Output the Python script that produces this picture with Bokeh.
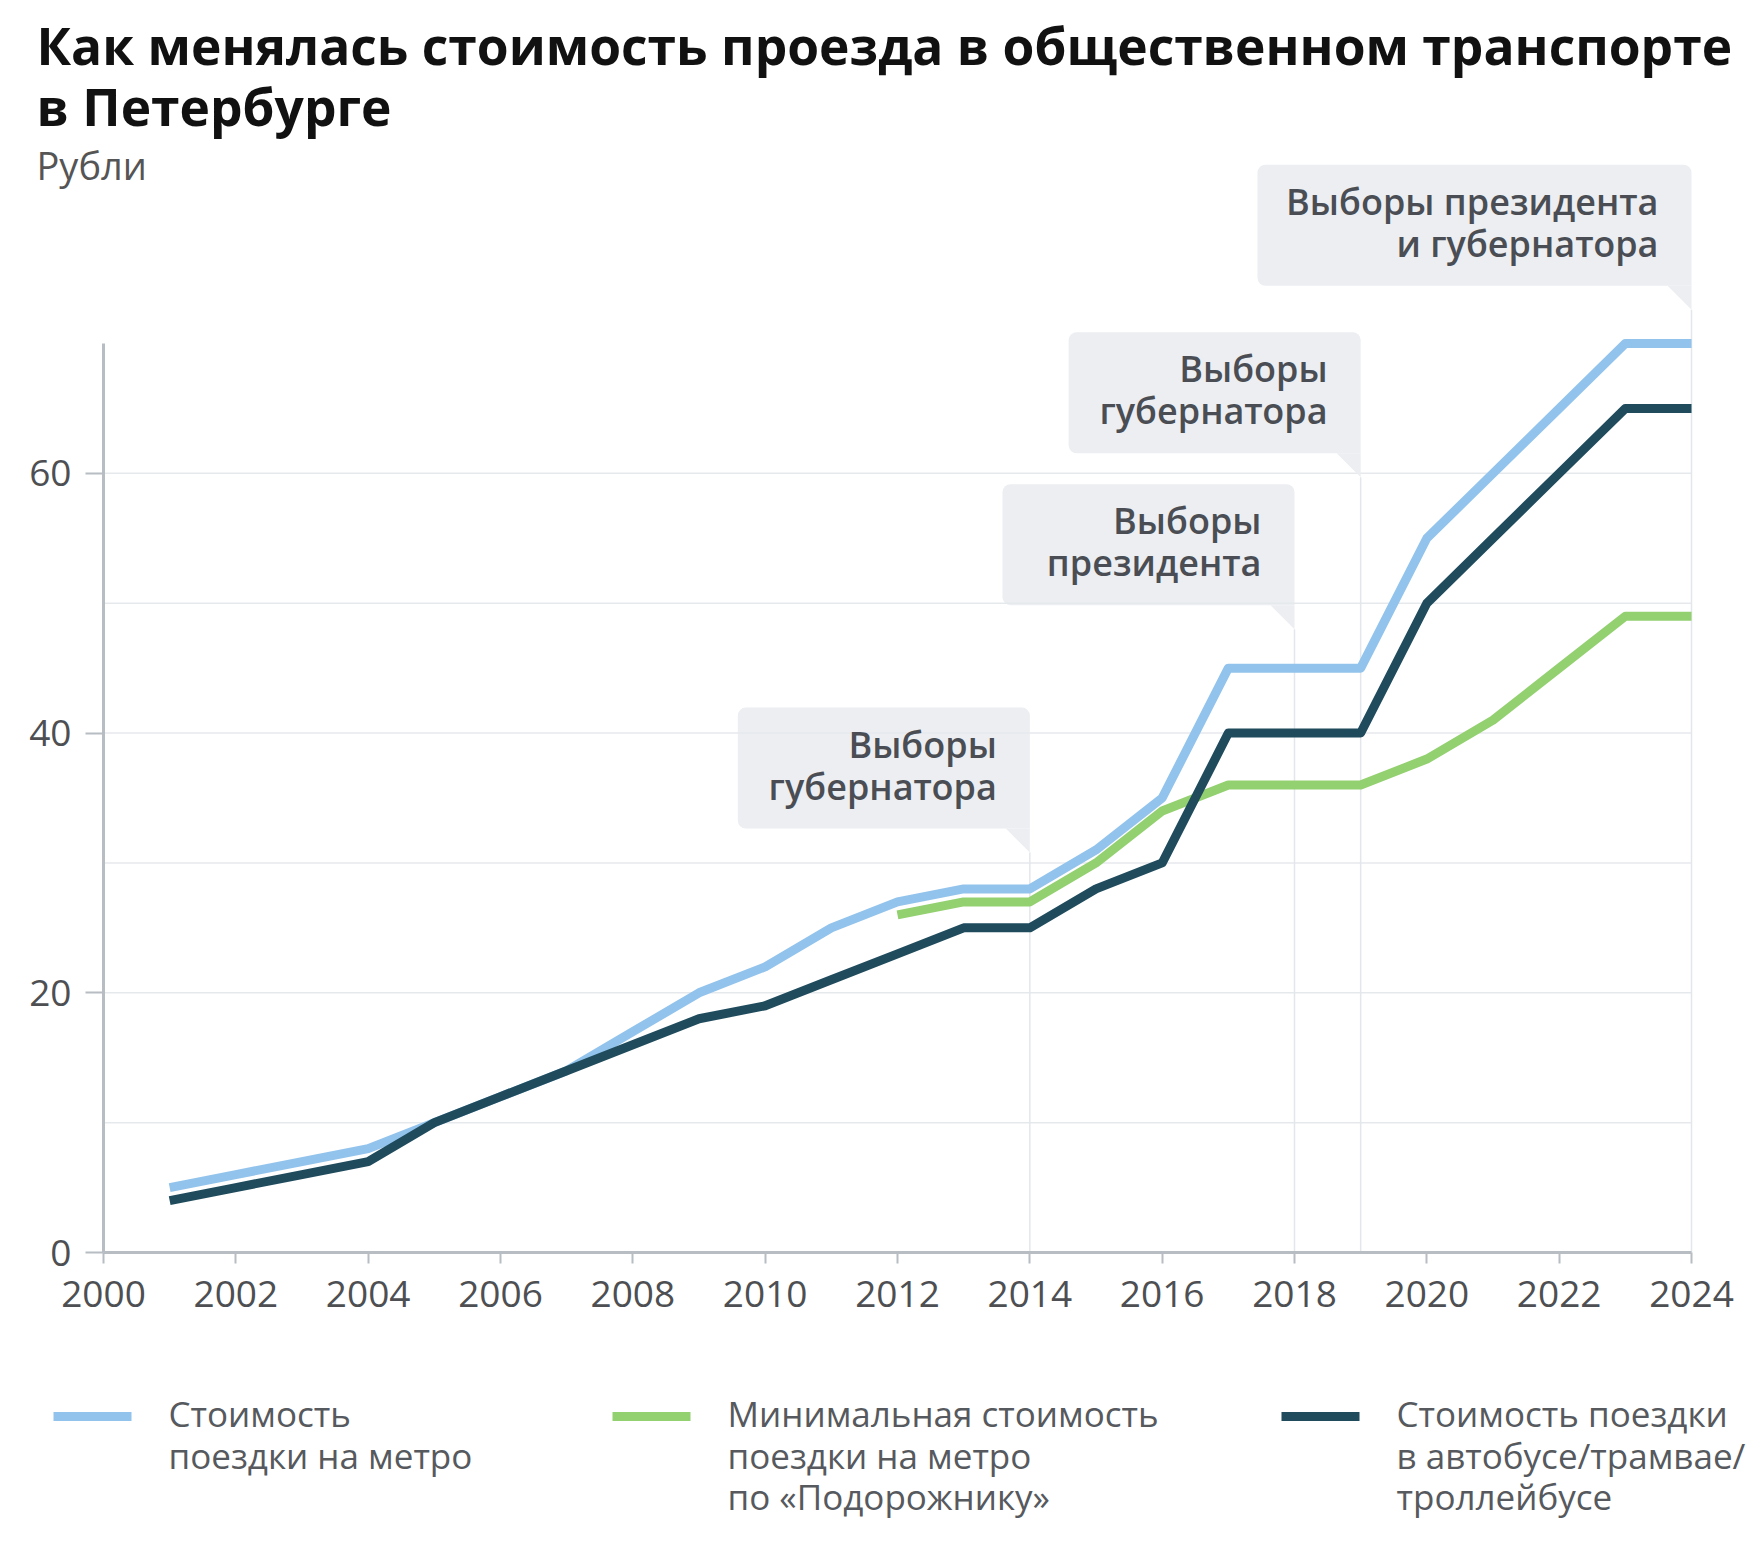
from bokeh.plotting import figure
from bokeh.models import Range1d, FixedTicker, BoxAnnotation
from bokeh.core.properties import value
from bokeh.embed import file_html
from bokeh.resources import INLINE

# ---------------- data ----------------
years_metro = list(range(2001, 2025))
metro = [5, 6, 7, 8, 10, 12, 14, 17, 20, 22, 25, 27, 28, 28, 31, 35, 45, 45, 45, 55, 60, 65, 70, 70]

years_podor = list(range(2012, 2025))
podor = [26, 27, 27, 30, 34, 36, 36, 36, 38, 41, 45, 49, 49]

years_bus = list(range(2001, 2025))
bus = [4, 5, 6, 7, 10, 12, 14, 16, 18, 19, 21, 23, 25, 25, 28, 30, 40, 40, 40, 50, 55, 60, 65, 65]

x_ticks = list(range(2000, 2025, 2))
y_ticks = [0, 20, 40, 60]
y_grid = [10, 20, 30, 40, 50, 60]

series_names = [["Стоимость", "поездки на метро"],
                ["Минимальная стоимость", "поездки на метро", "по «Подорожнику»"],
                ["Стоимость поездки", "в автобусе/трамвае/", "троллейбусе"]]
series_colors = ["#92c3ec", "#93d070", "#1f4b5d"]

callout_years = [2014, 2018, 2019, 2024]
callout_tip = [30.8, 48.0, 59.7, 72.6]
callout_text = [["Выборы", "губернатора"],
                ["Выборы", "президента"],
                ["Выборы", "губернатора"],
                ["Выборы президента", "и губернатора"]]
callout_wpx = [292, 292, 292, 434]

title1 = "Как менялась стоимость проезда в общественном транспорте"
title2 = "в Петербурге"
subtitle = "Рубли"

FONT = "Open Sans"
SEMI = "Open Sans SemiBold"

# ---------------- geometry (pixel layout -> data space) ----------------
W, H = 1746, 1531
X0_PX, X24_PX = 103, 1691          # pixel positions of 2000 and 2024
Y0_PX, Y70_PX = 1252, 343          # pixel positions of 0 and 70
ppy = (X24_PX - X0_PX) / 24.0
ppu = (Y0_PX - Y70_PX) / 70.0
x_start = 2000 - X0_PX / ppy
x_end = x_start + W / ppy
y_end = Y0_PX / ppu
y_start = -(H - Y0_PX) / ppu


def px2x(px):
    return x_start + px / ppy


def px2y(py):
    return (Y0_PX - py) / ppu


p = figure(width=W, height=H, x_range=Range1d(x_start, x_end), y_range=Range1d(y_start, y_end),
           min_border=0, output_backend="svg", toolbar_location=None, title_location=None)
p.outline_line_color = None
p.background_fill_color = "white"
p.border_fill_color = "white"
p.xgrid.visible = False
p.ygrid.visible = False

AX = "#b7bdc3"
TICK_TXT = "#4d4f52"
for ax in (p.xaxis[0], p.yaxis[0]):
    ax.axis_line_color = AX
    ax.axis_line_width = 3
    ax.major_tick_line_color = AX
    ax.major_tick_line_width = 2
    ax.major_tick_in = 0
    ax.minor_tick_line_color = None
    ax.major_label_text_font = FONT
    ax.major_label_text_font_size = "37px"
    ax.major_label_text_color = TICK_TXT

p.xaxis.ticker = FixedTicker(ticks=x_ticks)
p.xaxis.major_tick_out = 11
p.xaxis.major_label_standoff = 17
p.xaxis.bounds = (2000, 2024)
p.xaxis.fixed_location = 0

p.yaxis.ticker = FixedTicker(ticks=y_ticks)
p.yaxis.major_tick_out = 18
p.yaxis.major_label_standoff = 14
p.yaxis.bounds = (0, 70)
p.yaxis.fixed_location = 2000

# horizontal grid lines (only over the plotting area)
p.segment(x0=[2000] * len(y_grid), y0=y_grid, x1=[2024] * len(y_grid), y1=y_grid,
          line_color="#e6e9ec", line_width=1.5)

# vertical election lines
p.segment(x0=callout_years, y0=[0] * len(callout_years), x1=callout_years, y1=callout_tip,
          line_color="#e3e7eb", line_width=1.5)

# series lines
for xs, ys, col in ((years_metro, metro, series_colors[0]),
                    (years_podor, podor, series_colors[1]),
                    (years_bus, bus, series_colors[2])):
    p.line(xs, ys, line_color=col, line_width=9, line_join="round", line_cap="butt")

# callouts
BOX_H = 121
PTR = 24
BOX_FILL = "#eceef2"
for yr, tip, lines, wpx in zip(callout_years, callout_tip, callout_text, callout_wpx):
    bottom = tip + PTR / ppu
    top = bottom + BOX_H / ppu
    left = yr - wpx / ppy
    p.add_layout(BoxAnnotation(left=left, right=yr, bottom=bottom, top=top,
                               fill_color=BOX_FILL, fill_alpha=1, line_color=None,
                               border_radius=(8, 8, 0, 8), level="underlay"))
    p.patch([yr - PTR / ppy, yr, yr], [bottom, bottom, tip], fill_color=BOX_FILL,
            line_color=None)
    cy = (top + bottom) / 2 + 3 / ppu
    dy = 21 / ppu
    tx = yr - 33 / ppy
    p.text(x=[tx, tx], y=[cy + dy, cy - dy], text=lines, text_align="right",
           text_baseline="middle", text_font=value(SEMI),
           text_font_size="36px", text_color="#4a4e54")

# titles
p.text(x=[px2x(36)], y=[px2y(44)], text=[title1], text_font=value(FONT), text_font_style="bold",
       text_font_size="51.5px", text_color="#111111", text_baseline="middle")
p.text(x=[px2x(36)], y=[px2y(105)], text=[title2], text_font=value(FONT), text_font_style="bold",
       text_font_size="51.5px", text_color="#111111", text_baseline="middle")
p.text(x=[px2x(36)], y=[px2y(164)], text=[subtitle], text_font=value(FONT),
       text_font_size="38px", text_color="#555555", text_baseline="middle")

# legend
sw_x = [53, 612, 1281]
txt_x = [168, 727, 1396]
row0 = 1413
line_gap = 41.5
for i, (names, col) in enumerate(zip(series_names, series_colors)):
    p.segment(x0=[px2x(sw_x[i])], y0=[px2y(row0 + 3)], x1=[px2x(sw_x[i] + 78)], y1=[px2y(row0 + 3)],
              line_color=col, line_width=9)
    p.text(x=[px2x(txt_x[i])] * len(names),
           y=[px2y(row0 + k * line_gap) for k in range(len(names))],
           text=names, text_font=value(FONT), text_font_size="35px", text_color="#56595d",
           text_baseline="middle", text_align="left")

open("out.html", "w").write(file_html(p, INLINE))
